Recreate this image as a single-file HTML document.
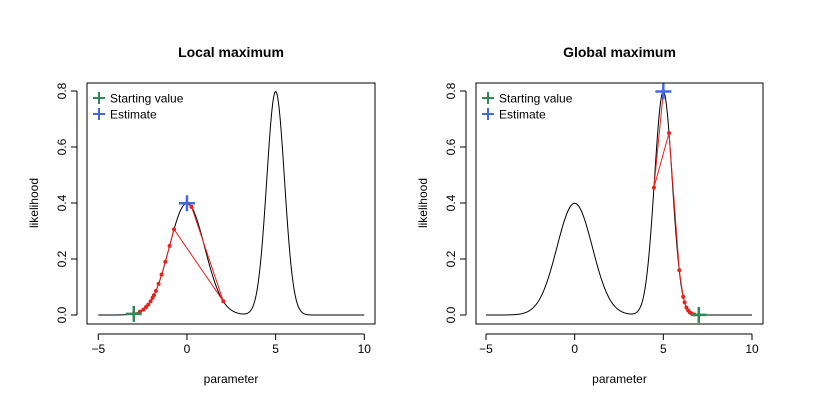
<!DOCTYPE html>
<html><head><meta charset="utf-8"><style>
body{margin:0;background:#fff}
svg{display:block;font-family:"Liberation Sans",Arial,sans-serif}
</style></head><body>
<svg id="c" width="819" height="416" viewBox="0 0 819 416"></svg>
<script>
// curve components (mixture of normals): means, sds
const compMeans = [0, 5];
const compSds = [1, 0.5];
const xTicks = [-5, 0, 5, 10];
const yTicks = [0.0, 0.2, 0.4, 0.6, 0.8];
const yTickLabels = ["0.0", "0.2", "0.4", "0.6", "0.8"];
const titles = ["Local maximum", "Global maximum"];
// optimisation paths
const localPathX = [-2.99,-2.65,-2.46,-2.31,-2.18,-2.05,-1.94,-1.86,-1.75,-1.60,-1.43,-1.22,-0.98,-0.73,2.05,0.26,0.0];
const localPathY = [0.005,0.012,0.019,0.028,0.037,0.049,0.061,0.071,0.086,0.111,0.144,0.190,0.247,0.306,0.049,0.386,0.399];
const globalPathX = [7.0,6.75,6.6,6.5,6.4,6.3,6.2,6.12,5.9,5.32,4.47,5.0];
const globalPathY = [0.0003,0.002,0.005,0.009,0.016,0.027,0.045,0.065,0.16,0.65,0.455,0.798];
const startVals = [[-3,0.004],[7,0.0003]];
const estimates = [[0,0.399],[5,0.798]];

const NS="http://www.w3.org/2000/svg";
const svg=document.getElementById('c');
function mk(tag,attrs,parent){const e=document.createElementNS(NS,tag);for(const k in attrs)e.setAttribute(k,attrs[k]);(parent||svg).appendChild(e);return e;}
function dens(x){let s=0;for(let i=0;i<compMeans.length;i++){const z=(x-compMeans[i])/compSds[i];s+=Math.exp(-0.5*z*z)/(compSds[i]*Math.sqrt(2*Math.PI));}return s;}

const panels=[{bx0:87,bx1:375,x0:98.3,paths:[localPathX,localPathY],name:'local'},
              {bx0:476,bx1:763,x0:486,paths:[globalPathX,globalPathY],name:'global'}];
const pxPerX=266/15, yZero=315, pxPerY=280;

panels.forEach((p,pi)=>{
  const sx=v=>p.x0+(v+5)*pxPerX, sy=v=>yZero-v*pxPerY;
  const g=mk('g',{});
  
  
  const box=mk('rect',{x:p.bx0,y:83,width:p.bx1-p.bx0,height:241,fill:'none',stroke:'#000','stroke-width':1},g);
  
  const t=mk('text',{x:(p.bx0+p.bx1)/2,y:57,'text-anchor':'middle','font-size':14,'font-weight':'bold'},g);t.textContent=titles[pi];
  
  // x axis
  mk('line',{x1:sx(-5),x2:sx(10),y1:334,y2:334,stroke:'#000'},g);
  xTicks.forEach(v=>{mk('line',{x1:sx(v),x2:sx(v),y1:334,y2:340,stroke:'#000'},g);
    const tl=mk('text',{x:sx(v),y:353,'text-anchor':'middle','font-size':12},g);tl.textContent=v===-5?'\u22125':v;
    });
  const xl=mk('text',{x:(p.bx0+p.bx1)/2,y:383,'text-anchor':'middle','font-size':12},g);xl.textContent='parameter';
  
  // y axis
  const ax=p.bx0-10;
  mk('line',{x1:ax,x2:ax,y1:sy(0),y2:sy(0.8),stroke:'#000'},g);
  yTicks.forEach((v,i)=>{mk('line',{x1:ax-6,x2:ax,y1:sy(v),y2:sy(v),stroke:'#000'},g);
    const tl=mk('text',{x:ax-11,y:sy(v),'text-anchor':'middle','font-size':12,transform:`rotate(-90 ${ax-11} ${sy(v)})`},g);tl.textContent=yTickLabels[i];
    });
  const yl=mk('text',{x:ax-39,y:203,'text-anchor':'middle','font-size':12,transform:`rotate(-90 ${ax-39} 203)`},g);yl.textContent='likelihood';
  
  // curve
  let d='';for(let i=0;i<=600;i++){const x=-5+15*i/600;d+=(i?'L':'M')+sx(x).toFixed(2)+','+sy(dens(x)).toFixed(2);}
  const c=mk('path',{d,fill:'none',stroke:'#000','stroke-width':1},g);
  
  // path
  const [PX,PY]=p.paths;
  const pl=mk('polyline',{points:PX.map((x,i)=>sx(x)+','+sy(PY[i])).join(' '),fill:'none',stroke:'#e8211c','stroke-width':1},g);
  
  PX.forEach((x,i)=>{const pt=mk('circle',{cx:sx(x),cy:sy(PY[i]),r:2,fill:'#e8211c'},g);
    });
  // markers
  const plus=(x,y,col,name)=>{const pg=mk('g',{stroke:col,'stroke-width':2.5},g);
    
    mk('line',{x1:x-8,x2:x+8,y1:y,y2:y},pg);mk('line',{x1:x,x2:x,y1:y-8,y2:y+8},pg);};
  plus(sx(startVals[pi][0]),sy(startVals[pi][1]),'#2e8b57','starting-value-marker');
  plus(sx(estimates[pi][0]),sy(estimates[pi][1]),'#4169e1','estimate-marker');
  // legend
  const lx=p.bx0+12;
  [['Starting value','#2e8b57',98],['Estimate','#4169e1',114]].forEach(([lab,col,y])=>{
    const lg=mk('g',{},g);
    const pg=mk('g',{stroke:col,'stroke-width':2},lg);
    mk('line',{x1:lx-6,x2:lx+6,y1:y,y2:y},pg);mk('line',{x1:lx,x2:lx,y1:y-6,y2:y+6},pg);
    const tx=mk('text',{x:lx+11,y:y+4.5,'font-size':12},lg);tx.textContent=lab;});
});
</script>
</body></html>
